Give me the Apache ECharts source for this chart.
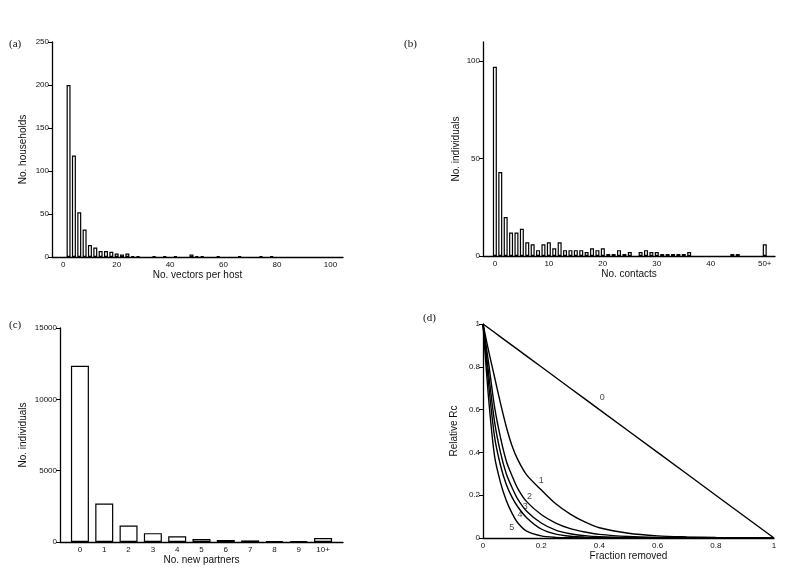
<!DOCTYPE html>
<html>
<head>
<meta charset="utf-8">
<script src="https://cdn.jsdelivr.net/npm/echarts@6/dist/echarts.min.js"></script>
<style>html,body{margin:0;padding:0;background:#fff}#c{width:800px;height:576px}</style>
</head>
<body>
<div id="c"></div>
<script>
// (a) households by number of vectors per host
const aBins = [2,4,6,8,10,12,14,16,18,20,22,24,26,28,34,38,42,48,50,52,58,66,74,78];
const aCounts = [200,118,52,32,14,11,7,7,6,4,3,4,1,1,1,1,1,3,1,1,1,1,1,1];
const aTicksX = [0,20,40,60,80,100];
const aTicksY = [0,50,100,150,200,250];

// (b) individuals by number of contacts (50 = "50+")
const bBins = [0,1,2,3,4,5,6,7,8,9,10,11,12,13,14,15,16,17,18,19,20,21,22,23,24,25,27,28,29,30,31,32,33,34,35,36,44,45,50];
const bCounts = [97,43,20,12,12,14,7,6,3,6,7,4,7,3,3,3,3,2,4,3,4,1,1,3,1,2,2,3,2,2,1,1,1,1,1,2,1,1,6];
const bTicksX = [0,10,20,30,40,50];
const bTicksY = [0,50,100];

// (c) individuals by number of new partners (10 = "10+")
const cBins = [0,1,2,3,4,5,6,7,8,9,10];
const cCounts = [12350,2700,1150,620,400,210,140,110,70,60,280];
const cTicksY = [0,5000,10000,15000];

// (d) relative Rc vs fraction removed
const dX = [0,0.02,0.04,0.06,0.08,0.1,0.12,0.15,0.2,0.25,0.3,0.35,0.4,0.5,0.6,0.7,0.8,1.0];
const curve0 = [1,0.98,0.96,0.94,0.92,0.9,0.88,0.85,0.8,0.75,0.7,0.65,0.6,0.5,0.4,0.3,0.2,0];
const curve1 = [1,0.87,0.75,0.63,0.52,0.43,0.365,0.295,0.225,0.16,0.112,0.075,0.048,0.022,0.01,0.005,0.002,0];
const curve2 = [1,0.81,0.61,0.47,0.36,0.29,0.23,0.17,0.11,0.07,0.044,0.028,0.017,0.007,0.003,0.002,0.001,0];
const curve3 = [1,0.76,0.54,0.4,0.3,0.235,0.18,0.125,0.07,0.037,0.02,0.011,0.006,0.002,0.001,0,0,0];
const curve4 = [1,0.71,0.47,0.34,0.25,0.19,0.145,0.095,0.042,0.018,0.008,0.004,0.002,0.001,0,0,0,0];
const curve5 = [1,0.64,0.38,0.26,0.175,0.115,0.07,0.032,0.01,0.003,0.001,0,0,0,0,0,0,0];
const curveNames = ['0','1','2','3','4','5'];
const curveLabelPos = [[0.41,0.657],[0.2,0.268],[0.16,0.193],[0.145,0.146],[0.127,0.112],[0.099,0.05]];

const tickFont = {fontFamily:'Liberation Sans, Arial, sans-serif', fontSize:8, color:'#111'};
const nameFont = {fontFamily:'Liberation Sans, Arial, sans-serif', fontSize:10, color:'#111'};
const axLine = {show:true, onZero:false, lineStyle:{color:'#000', width:1.3}};

function pairs(xs, ys){ return xs.map((x,i)=>[x, ys[i]]); }

function xAxis(gi, min, max, ticks, name, fmt){
  return {type:'value', gridIndex:gi, min:min, max:max, name:name, nameLocation:'middle', nameGap:12,
    nameTextStyle:nameFont, splitLine:{show:false}, axisLine:axLine,
    axisTick:{show:false},
    axisLabel:Object.assign({customValues:ticks, margin:4, formatter:fmt||(v=>String(v))}, tickFont)};
}
function yAxis(gi, min, max, ticks, name, gap){
  return {type:'value', gridIndex:gi, min:min, max:max, name:name, nameLocation:'middle', nameGap:gap,
    nameTextStyle:nameFont, splitLine:{show:false}, axisLine:axLine,
    axisTick:{show:true, customValues:ticks, length:4, lineStyle:{color:'#000', width:1}},
    axisLabel:Object.assign({customValues:ticks, margin:3, formatter:v=>String(v)}, tickFont)};
}
const barStyle = {color:'#fff', borderColor:'#000', borderWidth:1.2};

const curves = [curve0,curve1,curve2,curve3,curve4,curve5];
const lineSeries = curves.map((c,i)=>({type:'line', xAxisIndex:3, yAxisIndex:3, data:pairs(dX,c),
  showSymbol:false, symbol:'none', smooth:i===0?false:0.3,
  lineStyle:{color:'#000', width:1.4}, silent:true, z:3}));

const option = {
  animation:false,
  backgroundColor:'#fff',
  title:[
    {text:'(a)', left:9, top:39},
    {text:'(b)', left:404, top:39},
    {text:'(c)', left:9, top:320},
    {text:'(d)', left:423, top:313}
  ].map(t=>Object.assign(t,{textStyle:{fontFamily:'Liberation Serif, Times New Roman, serif', fontSize:11, fontWeight:'normal', color:'#111'}, padding:0})),
  grid:[
    {left:52, top:42, width:291, height:215},
    {left:483, top:42, width:292, height:214},
    {left:60, top:328, width:283, height:214},
    {left:483, top:324, width:291, height:214}
  ],
  xAxis:[
    xAxis(0, -4.2, 104.7, aTicksX, 'No. vectors per host'),
    xAxis(1, -2.2, 51.9, bTicksX, 'No. contacts', v=>v===50?'50+':String(v)),
    xAxis(2, -0.82, 10.82, cBins, 'No. new partners', v=>v===10?'10+':String(v)),
    xAxis(3, 0, 1, [0,0.2,0.4,0.6,0.8,1], 'Fraction removed')
  ],
  yAxis:[
    yAxis(0, 0, 250, aTicksY, 'No. households', 24),
    yAxis(1, 0, 109.7, bTicksY, 'No. individuals', 22),
    yAxis(2, 0, 15000, cTicksY, 'No. individuals', 32),
    yAxis(3, 0, 1, [0,0.2,0.4,0.6,0.8,1], 'Relative Rc', 24)
  ],
  series:[
    {type:'bar', xAxisIndex:0, yAxisIndex:0, data:pairs(aBins,aCounts), barWidth:4, itemStyle:barStyle, silent:true},
    {type:'bar', xAxisIndex:1, yAxisIndex:1, data:pairs(bBins,bCounts), barWidth:4, itemStyle:barStyle, silent:true},
    {type:'bar', xAxisIndex:2, yAxisIndex:2, data:pairs(cBins,cCounts), barWidth:18, itemStyle:barStyle, silent:true},
    ...lineSeries,
    {type:'scatter', xAxisIndex:3, yAxisIndex:3, symbolSize:1, itemStyle:{color:'transparent'}, silent:true,
      data:curveLabelPos.map((p,i)=>({value:p, name:curveNames[i]})),
      label:{show:true, position:'inside', formatter:'{b}', fontFamily:'Liberation Sans, Arial, sans-serif', fontSize:9, color:'#111'}}
  ]
};
const chart = echarts.init(document.getElementById('c'), null, {renderer:'canvas'});
chart.setOption(option);
</script>
</body>
</html>
